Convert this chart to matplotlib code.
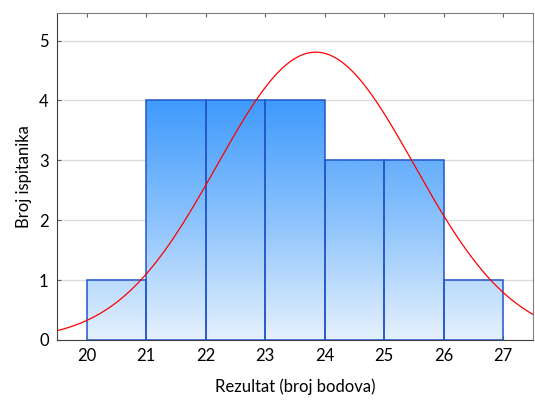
import numpy as np
import matplotlib.pyplot as plt
from matplotlib.colors import LinearSegmentedColormap
from matplotlib.path import Path
from matplotlib.patches import PathPatch

bin_edges = [20, 21, 22, 23, 24, 25, 26, 27]
counts = [1, 4, 4, 4, 3, 3, 1]
curve_mean = 23.85
curve_sd = 1.66
n_total = 20
y_ticks = [0, 1, 2, 3, 4, 5]

plt.rcParams['font.family'] = ['Lato', 'DejaVu Sans']

fig = plt.figure(figsize=(5.35, 4.0), dpi=100)
ax = fig.add_axes([0.1065, 0.15, 0.8895, 0.8175])

ax.set_xlim(19.5, 27.5)
ax.set_ylim(0, 5.46)

# gradient fill clipped to the bars
cmap = LinearSegmentedColormap.from_list('bars', ['#e6f1fd', '#8cc3fc', '#3f9afc'])
grad = np.linspace(0, 1, 256).reshape(-1, 1)
img = ax.imshow(grad, cmap=cmap, origin='lower', aspect='auto',
                extent=(19.5, 27.5, 0, 4), zorder=2)

widths = np.diff(bin_edges)
bars = ax.bar(bin_edges[:-1], counts, width=widths, align='edge',
              facecolor='none', edgecolor='#2356c8', linewidth=1.1, zorder=3)
verts, codes = [], []
for b in bars:
    x0, y0 = b.get_x(), b.get_y()
    w, h = b.get_width(), b.get_height()
    verts += [(x0, y0), (x0 + w, y0), (x0 + w, y0 + h), (x0, y0 + h), (x0, y0)]
    codes += [Path.MOVETO, Path.LINETO, Path.LINETO, Path.LINETO, Path.CLOSEPOLY]
clip = PathPatch(Path(verts, codes), transform=ax.transData, facecolor='none', edgecolor='none')
ax.add_patch(clip)
img.set_clip_path(clip)

# fitted normal curve
xs = np.linspace(19.5, 27.5, 400)
ys = n_total * 1.0 / (curve_sd * np.sqrt(2 * np.pi)) * np.exp(-0.5 * ((xs - curve_mean) / curve_sd) ** 2)
ax.plot(xs, ys, color='red', linewidth=0.9, zorder=4)

ax.set_xticks(bin_edges)
ax.set_yticks(y_ticks)
ax.yaxis.grid(True, color='#dcdcdc', linewidth=1)
ax.set_axisbelow(True)
ax.tick_params(axis='both', labelsize=12, direction='in', length=3, color='#606060', pad=6)
ax.tick_params(axis='x', top=True)

for s in ['top', 'right']:
    ax.spines[s].set_color('#808080')
for s in ['left', 'bottom']:
    ax.spines[s].set_color('#404040')

ax.set_xlabel('Rezultat (broj bodova)', fontsize=12, labelpad=10)
ax.set_ylabel('Broj ispitanika', fontsize=12, labelpad=5)

fig.savefig('out.png', dpi=100)
